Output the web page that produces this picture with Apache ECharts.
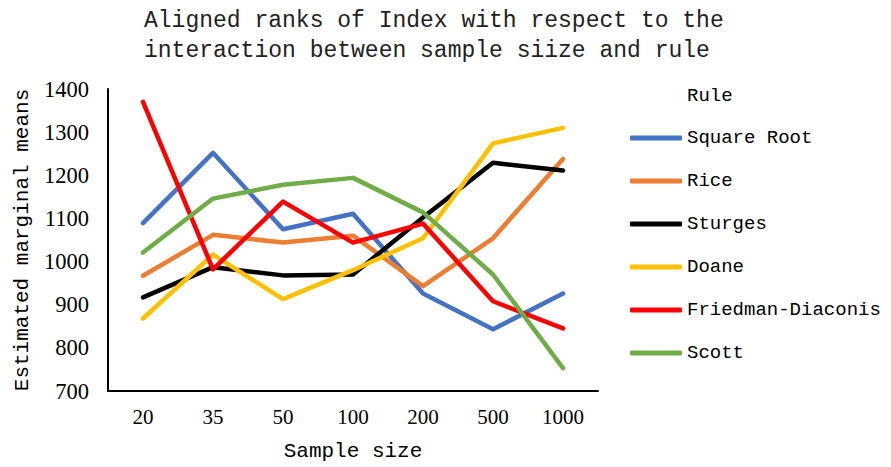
<!DOCTYPE html>
<html>
<head>
<meta charset="utf-8">
<script src="https://cdn.jsdelivr.net/npm/echarts@6/dist/echarts.min.js"></script>
<style>html,body{margin:0;padding:0;background:#fff;}#c{width:891px;height:467px;}</style>
</head>
<body>
<div id="c"></div>
<script>
const categories = ['20', '35', '50', '100', '200', '500', '1000'];
const seriesNames = ['Square Root', 'Rice', 'Sturges', 'Doane', 'Friedman-Diaconis', 'Scott'];
const squareRoot = [1089, 1252, 1075, 1111, 926, 843, 926];
const rice = [967, 1062, 1044, 1060, 943, 1054, 1238];
const sturges = [917, 987, 968, 970, 1102, 1229, 1211];
const doane = [868, 1016, 913, 980, 1054, 1274, 1310];
const friedmanDiaconis = [1370, 982, 1139, 1044, 1088, 908, 845];
const scott = [1021, 1146, 1178, 1194, 1114, 970, 753];
const yTicks = [700, 800, 900, 1000, 1100, 1200, 1300, 1400];
const colors = ['#4472C4', '#ED7D31', '#000000', '#FFC000', '#FF0000', '#70AD47'];
const values = [squareRoot, rice, sturges, doane, friedmanDiaconis, scott];

const mono = '"Liberation Mono", "DejaVu Sans Mono", monospace';
const serif = '"Liberation Serif", "DejaVu Serif", serif';

const chart = echarts.init(document.getElementById('c'), null, {renderer: 'svg'});
chart.setOption({
  backgroundColor: '#fff',
  animation: false,
  title: [{
    text: 'Aligned ranks of Index with respect to the\ninteraction between sample siize and rule',
    left: 139, top: 1,
    textStyle: {fontFamily: mono, fontSize: 23, fontWeight: 'normal', color: '#222', lineHeight: 30}
  }, {
    text: 'Rule', left: 682, top: 81,
    textStyle: {fontFamily: mono, fontSize: 19, fontWeight: 'normal', color: '#000'}
  }],
  legend: {
    orient: 'vertical', left: 625, top: 123,
    itemWidth: 52, itemHeight: 5, itemGap: 23,
    icon: 'roundRect',
    data: seriesNames,
    textStyle: {fontFamily: mono, fontSize: 19, color: '#000', lineHeight: 20}
  },
  grid: {left: 108, top: 89, width: 490, height: 303, containLabel: false},
  xAxis: {
    type: 'category', data: categories, boundaryGap: true,
    name: 'Sample size', nameLocation: 'middle', nameGap: 50,
    nameTextStyle: {fontFamily: mono, fontSize: 21, color: '#000'},
    axisLine: {lineStyle: {color: '#000', width: 2}},
    axisTick: {show: false},
    axisLabel: {fontFamily: serif, fontSize: 21, color: '#000', margin: 15}
  },
  yAxis: {
    type: 'value', min: 700, max: 1400, interval: 100,
    name: 'Estimated marginal means', nameLocation: 'middle', nameGap: 74,
    nameTextStyle: {fontFamily: mono, fontSize: 21, color: '#000'},
    axisLine: {show: true, lineStyle: {color: '#000', width: 2}},
    axisTick: {show: false},
    splitLine: {show: false},
    axisLabel: {fontFamily: serif, fontSize: 22.5, color: '#000', margin: 19,
      formatter: v => yTicks.includes(v) ? String(v) : ''}
  },
  series: seriesNames.map((n, i) => ({
    name: n, type: 'line', data: values[i],
    symbol: 'none', showSymbol: false,
    color: colors[i],
    lineStyle: {color: colors[i], width: 4.5, cap: 'round', join: 'round'},
    itemStyle: {color: colors[i]}
  }))
});
</script>
</body>
</html>
